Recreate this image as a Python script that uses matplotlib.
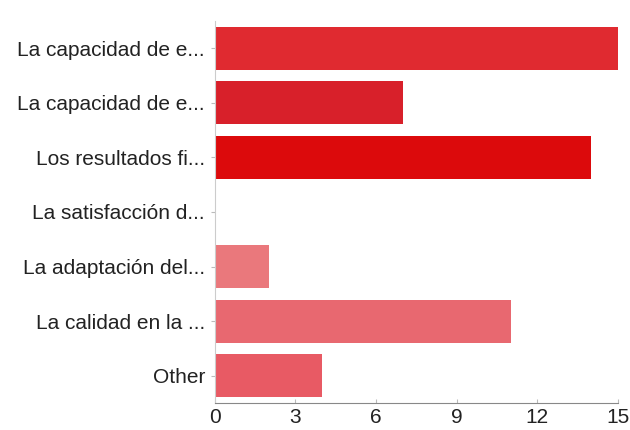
import matplotlib
matplotlib.use("Agg")
import matplotlib.pyplot as plt

categories = [
    "La capacidad de e...",
    "La capacidad de e...",
    "Los resultados fi...",
    "La satisfacción d...",
    "La adaptación del...",
    "La calidad en la ...",
    "Other",
]
counts = [15, 7, 14, 0, 2, 11, 4]
bar_colors = ["#e02a30", "#d8202a", "#dc0a0c", "#e8606a",
              "#ea787c", "#e86870", "#e85a64"]
xticks = [0, 3, 6, 9, 12, 15]

plt.rcParams["font.family"] = ["Liberation Sans", "DejaVu Sans"]

fig = plt.figure(figsize=(6.3, 4.3), dpi=100)
ax = fig.add_axes([0.341, 0.063, 0.640, 0.888])

ypos = list(range(len(categories)))
ax.barh(ypos, counts, height=0.79, color=bar_colors, edgecolor="none")

ax.set_yticks(ypos)
ax.set_yticklabels(categories, fontsize=15, color="#222222")
ax.set_ylim(len(categories) - 0.5, -0.5)
ax.set_xlim(0, 15)
ax.set_xticks(xticks)
ax.set_xticklabels([str(t) for t in xticks], fontsize=15, color="#222222")

for side in ("top", "right"):
    ax.spines[side].set_visible(False)
ax.spines["left"].set_color("#cccccc")
ax.spines["bottom"].set_color("#888888")
ax.tick_params(axis="y", length=3, color="#bbbbbb", pad=4)
ax.tick_params(axis="x", length=3, color="#bbbbbb", direction="in", pad=4)

fig.savefig("out.png", dpi=100)
